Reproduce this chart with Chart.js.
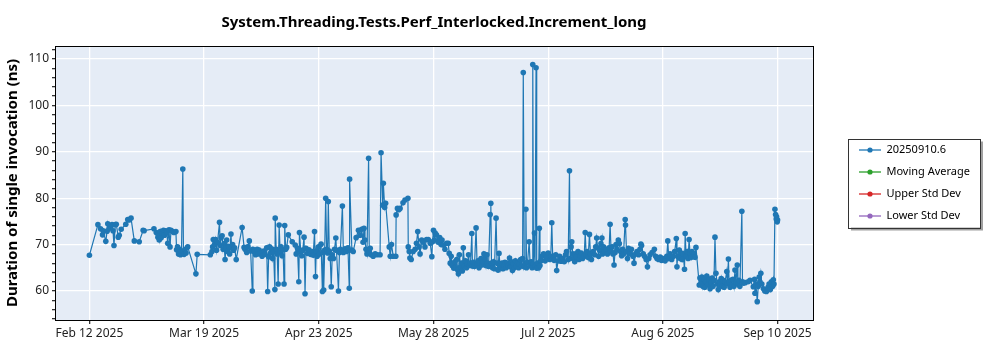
<!DOCTYPE html>
<html>
<head>
<meta charset="utf-8">
<script src="https://cdn.jsdelivr.net/npm/chart.js@4.4.1/dist/chart.umd.min.js"></script>
<style>
    html, body { margin: 0; padding: 0; background: #fff; }
</style>
</head>
<body>
<canvas id="PerfChart" width="1000" height="350"></canvas>
<script>
// day offsets counted from Feb 12 2025, one entry per run
let runDays = [
    0, 2.6, 3.4, 4.0, 4.2, 5.0, 5.4, 5.6, 6.0, 6.6, 6.9, 7.2, 7.5, 7.9, 8.2, 8.8, 9.1, 9.7, 11.1, 11.7,
    12.1, 12.7, 13.7, 15.2, 16.4, 16.7, 19.7, 20.4, 20.9, 21.1, 21.3, 21.6, 21.9, 22.2, 22.6, 22.9, 23.3, 23.6, 23.9, 24.3,
    24.6, 24.9, 25.4, 25.8, 26.4, 26.6, 26.9, 27.2, 27.5, 27.8, 28.1, 28.5, 28.7, 28.9, 29.2, 29.5, 30.0, 32.5, 32.9,
    36.9, 37.4, 37.6, 37.8, 38.2, 38.5, 38.8, 39.1, 39.7, 39.9, 40.2, 40.5, 40.8, 41.1, 41.4, 41.7, 41.9, 42.2, 42.5, 42.8,
    43.2, 43.4, 43.7, 44.0, 44.3, 44.8, 46.6, 47.2, 47.5, 48.0, 48.3, 48.8, 49.2, 49.7, 49.9, 50.2, 50.7, 51.2, 51.5, 51.8,
    52.1, 52.7, 53.2, 53.6, 54.1, 54.4, 54.7, 55.0, 55.3, 55.6, 55.9, 56.2, 56.6, 56.7, 57.0, 57.3, 57.6, 57.9, 58.2, 58.5,
    58.8, 59.1, 59.4, 59.6, 59.9, 60.2, 60.7, 61.9, 62.8, 63.1, 63.5, 63.9, 64.1, 64.5, 64.8, 65.1, 65.5, 65.8, 66.1, 66.6,
    67.0, 67.5, 68.0, 68.3, 68.7, 69.0, 69.2,
    69.5, 69.9, 70.2, 70.7, 71.1, 71.3, 71.5, 71.8, 72.1, 72.4, 72.7, 72.9, 73.2, 73.5, 73.8, 74.1, 74.5, 74.8, 75.2, 75.4,
    76.0, 76.3, 76.6, 77.2, 77.5, 78.0, 78.4, 78.9, 79.3, 79.4, 80.1, 80.5, 81.4, 82.1, 82.6, 83.1, 83.5, 83.8, 84.1, 84.4,
    84.7, 85.2, 85.4, 85.7, 86.0, 86.6, 87.2, 87.8, 88.7, 89.0, 89.5, 89.7, 90.1, 90.4, 91.5, 91.8, 92.2, 92.7, 93.5, 93.6,
    94.0, 94.4, 94.8, 95.7, 96.3, 97.2, 97.3, 97.6, 97.8, 98.2, 98.8, 99.4, 99.8, 100.2, 100.6, 100.9, 101.4, 101.8, 102.4, 102.9,
    103.4, 104.0, 104.5, 104.7, 105.0, 105.3, 105.5,
    105.9, 106.4, 106.9, 107.3, 107.6, 108.0, 108.5, 109.0, 109.5, 109.8, 110.1, 110.4, 110.7, 111.2, 111.5, 111.8, 112.1, 112.4, 112.6, 112.9,
    113.3, 113.6, 113.8, 114.1, 114.5, 114.8, 115.1, 115.4, 115.7, 116.0, 116.3, 116.7, 116.9, 117.2, 117.5, 118.0, 118.3, 118.6, 118.9, 119.2,
    119.5, 119.8, 120.1, 120.4, 120.7, 121.0, 121.3, 121.5, 121.8, 122.3, 122.5, 122.7, 123.0, 123.3, 123.6, 124.1, 124.4, 124.7, 125.0, 125.3,
    125.6, 125.9, 126.2, 126.5, 126.8, 127.2, 127.5, 127.8, 128.2, 128.5, 128.8, 129.1, 129.4, 129.7, 130.0, 130.3, 130.7, 131.0, 131.3, 131.6,
    131.9, 132.2, 132.4, 132.7, 133.0, 133.2, 133.4, 133.7, 134.2, 134.5, 134.8, 135.1, 135.3, 135.5, 135.8, 136.0, 136.3, 136.5, 136.8, 137.1,
    137.3, 137.5, 137.8,
    138.1, 138.6, 139.1, 139.5, 140.0, 140.5, 140.8, 141.1, 141.4, 141.8, 142.3, 142.6, 143.0, 143.5, 143.9, 144.4, 144.9, 145.3, 145.6, 146.1,
    146.5, 146.7, 147.0, 147.2, 147.5, 147.8, 148.1, 148.4, 148.7, 149.1, 149.4, 149.8, 150.1, 150.5, 151.0, 151.3, 151.6, 151.9, 152.2, 152.6,
    152.9, 153.2, 153.7, 154.2, 154.5, 154.8, 155.1, 155.4, 155.7, 156.1, 156.4, 156.6, 156.9, 157.2, 157.7, 158.1, 158.6, 158.9, 159.2, 159.5,
    159.8, 160.1, 160.4, 160.7, 161.0, 161.4, 161.7, 162.1, 162.4, 162.7, 163.0, 163.5, 163.6, 163.9, 164.2, 164.5, 165.0, 165.4, 165.9, 166.2,
    166.7, 167.1, 167.6, 168.0, 168.3, 168.5, 169.0, 169.4, 169.9, 170.3, 170.7, 171.1, 171.7, 172.4, 172.8, 173.2, 173.7, 174.2, 174.6, 175.1,
    175.7, 176.2, 176.5, 176.8, 177.2, 177.7, 178.2, 178.6, 179.1, 179.3, 179.5, 180.0, 180.3, 180.6, 180.9, 181.2, 181.6, 181.8, 182.1, 182.4,
    182.7, 183.0, 183.3, 183.6, 183.9, 184.2, 184.5, 184.8, 185.1, 186.1,
    186.3, 186.6, 186.9, 187.2, 187.5, 187.8, 188.1, 188.4, 188.8, 189.1, 189.4, 189.7, 190.0, 190.3, 190.6, 190.9, 191.2, 191.6, 191.9, 192.2,
    192.5, 192.8, 193.1, 193.4, 193.7, 194.0, 194.5, 194.7, 195.0, 195.2, 195.5, 195.8, 196.1, 196.4, 196.7, 197.0, 197.3, 197.7, 197.9, 198.2,
    198.5, 199.1, 199.3, 199.6, 200.1, 201.0, 201.6, 202.6, 203.0, 203.1, 203.4, 203.8, 204.1, 204.4, 204.6, 204.9, 205.2, 205.7, 206.1, 206.6,
    207.1, 207.4, 207.8, 208.1, 208.5, 208.7, 208.9, 209.2, 209.4, 209.6, 209.7, 209.9, 210.0
];

// duration of single invocation (ns), same order as runDays
let runDurations = [
    67.7, 74.3, 73.4, 72.1, 73.0, 70.7, 72.9, 74.5, 73.5, 74.0, 74.3, 73.0, 69.8, 74.3, 74.4, 71.6, 72.0, 73.3, 74.4, 75.4,
    75.3, 75.7, 70.8, 70.6, 73.1, 73.0, 73.4, 72.6, 71.6, 72.2, 71.0, 72.8, 71.5, 72.4, 73.1, 72.0, 73.0, 72.5, 70.3, 73.2,
    69.5, 73.1, 72.8, 72.6, 72.8, 68.9, 69.5, 68.0, 69.0, 67.8, 68.6, 86.3, 68.5, 67.9, 69.0, 68.2, 69.5, 63.7, 67.9,
    67.8, 68.5, 69.5, 71.1, 70.0, 71.1, 68.8, 70.5, 74.8, 69.8, 71.5, 71.9, 69.0, 70.2, 66.8, 69.5, 71.0, 68.5, 69.6, 68.0,
    72.3, 69.3, 70.0, 68.8, 69.3, 66.8, 73.7, 69.4, 69.0, 68.3, 69.5, 70.8, 68.6, 60.0, 69.0, 68.5, 67.8, 69.0, 68.0, 68.8,
    68.2, 67.5, 68.6, 67.9, 69.3, 59.9, 67.4, 69.5, 68.2, 69.1, 67.0, 68.5, 60.3, 75.7, 69.0, 68.0, 61.5, 74.2, 68.4, 69.5,
    67.6, 68.9, 61.5, 74.1, 69.0, 69.4, 72.1, 70.6, 69.9, 68.0, 69.2, 62.0, 72.6, 68.5, 67.6, 68.8, 71.6, 59.4, 69.2, 68.1,
    68.9, 67.9, 68.5, 67.7, 72.8, 63.1, 68.6,
    67.5, 69.5, 68.0, 70.1, 59.9, 68.3, 60.2, 68.8, 80.0, 69.0, 68.2, 79.3, 68.6, 67.0, 60.9, 67.8, 67.0, 69.0, 71.4, 68.8,
    60.0, 68.3, 69.0, 78.3, 68.3, 69.1, 68.5, 69.3, 60.6, 84.1, 68.8, 68.5, 71.5, 73.1, 72.0, 73.3, 70.5, 73.5, 71.0, 69.0,
    68.0, 88.6, 68.5, 69.2, 67.8, 67.5, 68.0, 67.8, 67.8, 89.8, 78.5, 83.2, 78.0, 78.9, 69.5, 67.5, 70.0, 67.5, 67.5, 76.4,
    77.8, 77.5, 77.8, 79.0, 79.6, 80.0, 69.5, 68.5, 67.1, 66.8, 68.5, 69.0, 70.3, 72.8, 69.5, 68.0, 71.0, 70.5, 69.5, 71.1,
    71.1, 70.3, 67.4, 70.6, 73.1, 71.0, 72.5,
    72.1, 70.5, 71.5, 70.0, 71.0, 69.9, 69.0, 70.3, 70.3, 68.1, 66.0, 67.5, 65.5, 64.9, 66.3, 65.0, 66.8, 64.5, 63.7, 67.8,
    65.2, 66.0, 64.3, 69.3, 65.3, 66.5, 65.0, 65.8, 67.8, 65.5, 66.0, 72.4, 65.4, 66.2, 65.3, 73.6, 65.8, 66.5, 65.0, 66.0,
    67.0, 65.6, 66.3, 68.0, 67.0, 65.5, 67.8, 66.0, 65.3, 76.5, 78.9, 66.0, 65.0, 66.3, 64.8, 75.7, 66.0, 64.5, 68.1, 65.5,
    65.0, 66.0, 64.8, 65.6, 66.2, 65.0, 66.0, 65.5, 67.1, 65.2, 66.3, 64.4, 65.8, 65.0, 66.5, 65.3, 66.0, 65.0, 65.8, 66.8,
    65.4, 67.0, 107.1, 65.2, 66.0, 77.6, 65.0, 66.2, 70.6, 65.5, 66.3, 65.0, 108.8, 65.8, 72.5, 65.3, 108.1, 64.9, 66.0, 65.0,
    73.5, 65.5, 66.5,
    67.5, 68.0, 66.5, 67.3, 68.2, 66.8, 67.5, 74.7, 67.0, 66.6, 67.8, 64.4, 66.5, 67.5, 66.4, 67.0, 66.3, 67.8, 68.5, 66.8,
    85.9, 67.0, 69.5, 70.6, 68.0, 67.0, 66.3, 68.0, 67.3, 68.5, 66.8, 67.5, 68.2, 67.0, 67.5, 72.6, 67.8, 68.5, 67.2, 72.2,
    68.0, 66.8, 68.5, 67.8, 69.5, 71.4, 69.3, 67.5, 68.8, 70.2, 71.4, 68.0, 69.5, 68.5, 69.0, 68.0, 69.3, 74.4, 68.5, 69.5,
    68.0, 65.6, 68.3, 70.0, 69.0, 71.0, 70.2, 68.5, 67.6, 69.0, 68.0, 75.4, 74.2, 68.5, 67.0, 69.2, 68.0, 69.0, 67.5, 66.0,
    68.0, 68.5, 67.8, 69.0, 70.1, 69.8, 68.0, 67.5, 66.8, 65.2, 67.0, 67.8, 68.3, 69.0, 67.5, 67.0, 66.8, 67.3, 66.6, 67.0,
    66.5, 67.5, 70.8, 67.0, 68.0, 66.8, 67.5, 68.5, 71.3, 65.2, 67.5, 68.8, 67.0, 68.2, 66.8, 68.0, 64.7, 72.4, 67.5, 68.5,
    67.0, 71.1, 68.0, 67.2, 68.5, 67.5, 68.0, 67.3, 69.4, 61.3,
    62.8, 61.5, 63.0, 61.0, 62.5, 60.8, 62.0, 63.2, 61.3, 62.5, 60.5, 61.8, 62.8, 61.0, 62.3, 71.6, 63.8, 61.5, 60.3, 62.0,
    61.2, 62.7, 61.0, 62.3, 60.8, 62.0, 64.2, 61.5, 66.9, 62.0, 60.8, 62.3, 61.3, 62.5, 61.0, 64.5, 61.8, 65.6, 61.5, 62.3,
    61.0, 77.2, 62.0, 61.7, 61.8, 62.0, 62.3, 60.9, 62.5, 59.5, 61.5, 57.7, 61.0, 63.0, 62.0, 63.8, 61.5, 60.5, 60.0, 59.9,
    60.8, 61.5, 60.3, 62.0, 61.0, 62.4, 61.5, 77.6, 76.5, 75.5, 76.0, 74.9, 75.3
];

let seriesNames = ['20250910.6', 'Moving Average', 'Upper Std Dev', 'Lower Std Dev'];
let seriesColors = ['#1f77b4', '#2ca02c', '#d62728', '#9467bd'];

// x tick positions (days from Feb 12 2025), five weeks apart
let xTickDays = [0, 35, 70, 105, 140, 175, 210];
let monthNames = ['Jan', 'Feb', 'Mar', 'Apr', 'May', 'Jun', 'Jul', 'Aug', 'Sep', 'Oct', 'Nov', 'Dec'];

const fontFamily = '"Noto Sans", "Open Sans", sans-serif';

function FormatDay(offset) {
    let d = new Date(2025, 1, 12 + offset);
    return monthNames[d.getMonth()] + ' ' + d.getDate() + ' ' + d.getFullYear();
}

function MakeLegendMarker(color) {
    let c = document.createElement('canvas');
    c.width = 22;
    c.height = 8;
    let ctx = c.getContext('2d');
    ctx.strokeStyle = color;
    ctx.lineWidth = 1.3;
    ctx.beginPath();
    ctx.moveTo(0, 4);
    ctx.lineTo(22, 4);
    ctx.stroke();
    ctx.fillStyle = color;
    ctx.beginPath();
    ctx.arc(11, 4, 2.6, 0, Math.PI * 2);
    ctx.fill();
    return c;
}

let legendMarkers = seriesColors.map(MakeLegendMarker);

let yTickValues = [];
for (let v = 54; v <= 112; v += 2) yTickValues.push(v);

let mainPoints = [];
for (let i = 0; i < runDays.length; i++) {
    mainPoints.push({ x: runDays[i], y: runDurations[i] });
}

const plotFramePlugin = {
    id: 'plotFrame',
    beforeDraw(chart) {
        let ctx = chart.ctx;
        let a = chart.chartArea;
        ctx.save();
        ctx.fillStyle = '#e5ecf6';
        ctx.fillRect(a.left, a.top, a.right - a.left, a.bottom - a.top);

        let boxes = chart.legend.legendHitBoxes;
        if (boxes && boxes.length) {
            let left = Math.min.apply(null, boxes.map(b => b.left)) - 11;
            let right = Math.max.apply(null, boxes.map(b => b.left + b.width)) + 10;
            let top = Math.min.apply(null, boxes.map(b => b.top)) - 6;
            let bottom = Math.max.apply(null, boxes.map(b => b.top + b.height)) + 6;
            ctx.fillStyle = '#a0a0a0';
            ctx.fillRect(left + 3, top + 3, right - left, bottom - top);
            ctx.fillStyle = '#fff';
            ctx.fillRect(left, top, right - left, bottom - top);
            ctx.strokeStyle = '#333';
            ctx.lineWidth = 1;
            ctx.strokeRect(Math.round(left) + 0.5, Math.round(top) + 0.5, Math.round(right - left), Math.round(bottom - top));
        }
        ctx.restore();
    },
    beforeDatasetsDraw(chart) {
        let ctx = chart.ctx;
        let a = chart.chartArea;
        ctx.save();
        ctx.strokeStyle = '#000';
        ctx.lineWidth = 1;
        ctx.strokeRect(Math.round(a.left) + 0.5, Math.round(a.top) + 0.5, Math.round(a.right - a.left), Math.round(a.bottom - a.top));
        ctx.restore();
    }
};

let datasets = seriesNames.map(function (name, i) {
    return {
        label: name,
        data: i === 0 ? mainPoints : [],
        borderColor: seriesColors[i],
        backgroundColor: seriesColors[i],
        borderWidth: 1.2,
        pointRadius: 2.8,
        pointHoverRadius: 2.8,
        pointBorderWidth: 0,
        tension: 0
    };
});

new Chart(document.getElementById('PerfChart').getContext('2d'), {
    type: 'line',
    data: { datasets: datasets },
    plugins: [plotFramePlugin],
    options: {
        responsive: false,
        animation: false,
        devicePixelRatio: 1,
        layout: { padding: { top: 2, right: 20, bottom: 0, left: 0 } },
        plugins: {
            tooltip: { enabled: false },
            title: {
                display: true,
                text: 'System.Threading.Tests.Perf_Interlocked.Increment_long',
                fullSize: false,
                color: '#000',
                font: { family: fontFamily, size: 15, weight: 'bold' },
                padding: { top: 12, bottom: 14 }
            },
            legend: {
                position: 'right',
                fullSize: false,
                align: 'center',
                labels: {
                    usePointStyle: true,
                    pointStyleWidth: 22,
                    padding: 11,
                    color: '#000',
                    font: { family: fontFamily, size: 11 },
                    generateLabels: function (chart) {
                        return Chart.defaults.plugins.legend.labels.generateLabels(chart).map(function (l, i) {
                            l.pointStyle = legendMarkers[i];
                            return l;
                        });
                    }
                }
            }
        },
        scales: {
            x: {
                type: 'linear',
                min: -10.5,
                max: 220.8,
                afterBuildTicks: function (scale) {
                    scale.ticks = xTickDays.map(v => ({ value: v }));
                },
                afterFit: function (scale) { scale.height = 30; },
                ticks: {
                    autoSkip: false,
                    maxRotation: 0,
                    padding: 2,
                    color: '#222',
                    font: { family: fontFamily, size: 12 },
                    callback: v => FormatDay(v)
                },
                grid: { color: '#fff', lineWidth: 1.3, tickLength: 4, tickColor: '#333' },
                border: { display: false }
            },
            y: {
                type: 'linear',
                min: 53.75,
                max: 112.8,
                afterBuildTicks: function (scale) {
                    scale.ticks = yTickValues.map(v => ({ value: v }));
                },
                afterFit: function (scale) { scale.width = 55; },
                ticks: {
                    autoSkip: false,
                    padding: 3,
                    color: '#222',
                    font: { family: fontFamily, size: 12 },
                    callback: v => (v % 10 === 0 ? String(v) : '')
                },
                grid: {
                    color: c => (c.tick && c.tick.value % 10 === 0 ? '#fff' : 'rgba(0,0,0,0)'),
                    lineWidth: 1.3,
                    tickLength: 3,
                    tickColor: '#333'
                },
                border: { display: false },
                title: {
                    display: true,
                    text: 'Duration of single invocation (ns)',
                    color: '#000',
                    font: { family: fontFamily, size: 15, weight: 'bold' },
                    padding: { top: 4, bottom: 0 }
                }
            },
            gap: {
                type: 'linear',
                position: 'right',
                grid: { display: false },
                border: { display: false },
                ticks: { display: false },
                afterFit: function (scale) { scale.width = 35; }
            }
        }
    }
});
</script>
</body>
</html>
